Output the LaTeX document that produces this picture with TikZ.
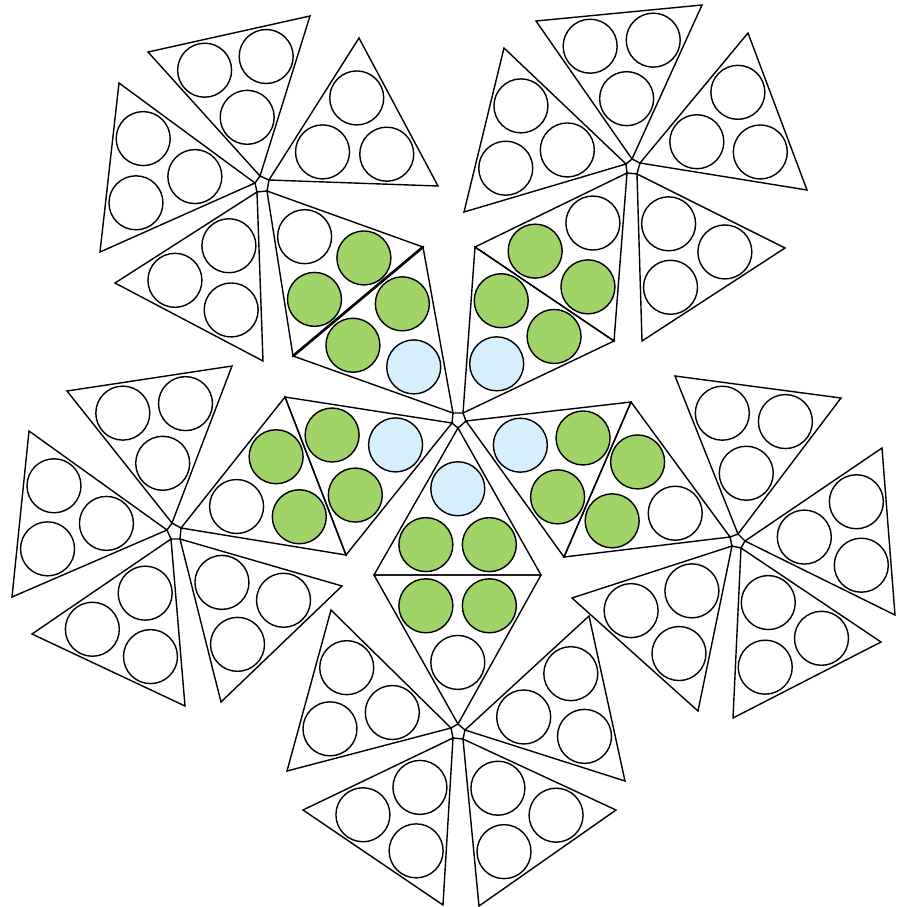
\documentclass[tikz,border=0pt]{standalone}
\usepackage{tikz}

\definecolor{gr}{HTML}{A0D468}
\definecolor{bl}{HTML}{D6EFFC}
\colorlet{wh}{white}

\begin{document}
\begin{tikzpicture}[x=0.02cm, y=-0.02cm,
	tri/.style={draw=black, line width=0.8pt},
	disc/.style={draw=black, line width=0.8pt}]
	% -------- Tunables --------
	\def\rad{0.54cm}    % radius of the discs
	\def\pull{0.38}     % disc centre = centroid + pull*(corner - centroid)
	
	\useasboundingbox (0,0) rectangle (903,907);
	
	% -------- Triangles: apex (at hub) / corner B / corner C / fills --------
	\foreach \ax/\ay/\bx/\by/\cx/\cy/\fa/\fb/\fc in {
		% hub 1 (top left)
		260/176/148/52/310/16/wh/wh/wh,
		269/180/359/38/438/186/wh/wh/wh,
		255/183/119/83/100/252/wh/wh/wh,
		257/192/115/283/263/361/wh/wh/wh,
		267/191/423/247/293/356/wh/gr/gr,
		% hub 2 (top right)
		632/159/536/21/702/5/wh/wh/wh,
		640/163/748/33/807/190/wh/wh/wh,
		626/164/504/48/464/212/wh/wh/wh,
		637/174/785/248/642/341/wh/wh/wh,
		627/173/475/247/614/341/wh/gr/gr,
		% hub 3 (centre)
		453/413/423/247/293/356/bl/gr/gr,
		463/413/475/247/614/341/bl/gr/gr,
		466/421/631/402/564/557/bl/gr/gr,
		458/428/374/575/541/575/bl/gr/gr,
		452/423/285/397/346/555/bl/gr/gr,
		% hub 4 (left)
		172/523/67/391/232/366/wh/wh/wh,
		167/530/29/431/12/597/wh/wh/wh,
		171/539/32/634/185/706/wh/wh/wh,
		180/539/342/586/221/702/wh/wh/wh,
		181/528/285/397/346/555/wh/gr/gr,
		% hub 5 (right)
		738/534/675/376/841/398/wh/wh/wh,
		745/541/882/448/895/615/wh/wh/wh,
		741/548/881/642/733/718/wh/wh/wh,
		732/546/572/598/698/711/wh/wh/wh,
		730/537/631/402/564/557/wh/gr/gr,
		% hub 6 (bottom)
		458/724/374/575/541/575/wh/gr/gr,
		465/730/589/616/625/781/wh/wh/wh,
		463/739/616/810/479/906/wh/wh/wh,
		453/738/303/810/443/905/wh/wh/wh,
		451/728/331/610/287/771/wh/wh/wh}{
		\draw[tri] (\ax,\ay) -- (\bx,\by) -- (\cx,\cy) -- cycle;
		
		% centroid
		\pgfmathsetmacro{\gx}{(\ax+\bx+\cx)/3}
		\pgfmathsetmacro{\gy}{(\ay+\by+\cy)/3}
		
		% one disc pulled toward each corner
		\pgfmathsetmacro{\px}{\gx+\pull*(\ax-\gx)}
		\pgfmathsetmacro{\py}{\gy+\pull*(\ay-\gy)}
		\draw[disc, fill=\fa] (\px,\py) circle[radius=\rad];
		\pgfmathsetmacro{\px}{\gx+\pull*(\bx-\gx)}
		\pgfmathsetmacro{\py}{\gy+\pull*(\by-\gy)}
		\draw[disc, fill=\fb] (\px,\py) circle[radius=\rad];
		\pgfmathsetmacro{\px}{\gx+\pull*(\cx-\gx)}
		\pgfmathsetmacro{\py}{\gy+\pull*(\cy-\gy)}
		\draw[disc, fill=\fc] (\px,\py) circle[radius=\rad];
	}
	
	% -------- Hub pentagons --------
	\draw[tri] (260,176) -- (269,180) -- (267,191) -- (257,192) -- (255,183) -- cycle;
	\draw[tri] (632,159) -- (640,163) -- (637,174) -- (627,173) -- (626,164) -- cycle;
	\draw[tri] (453,413) -- (463,413) -- (466,421) -- (458,428) -- (452,423) -- cycle;
	\draw[tri] (172,523) -- (181,528) -- (180,539) -- (171,539) -- (167,530) -- cycle;
	\draw[tri] (738,534) -- (745,541) -- (741,548) -- (732,546) -- (730,537) -- cycle;
	\draw[tri] (458,724) -- (465,730) -- (463,739) -- (453,738) -- (451,728) -- cycle;
	
	% heavier seam in the upper left diamond
	\draw[line width=1.5pt, line cap=round] (423,247) -- (293,356);
\end{tikzpicture}
\end{document}
